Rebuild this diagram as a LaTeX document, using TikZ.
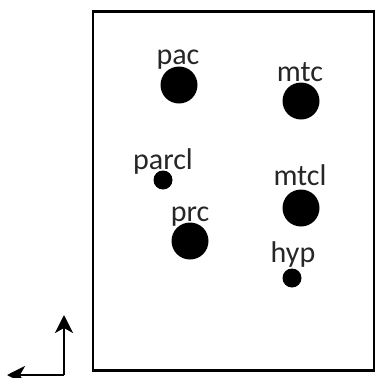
\documentclass[tikz,border=0pt]{standalone}
\usepackage{fontspec}
\setmainfont{Carlito}
\usetikzlibrary{arrows.meta}
\begin{document}
\begin{tikzpicture}[x=1pt,y=-1pt,
  big/.style={circle,fill=black,inner sep=0pt,minimum size=37pt},
  small/.style={circle,fill=black,inner sep=0pt,minimum size=19pt},
  lab/.style={inner sep=0pt,text=black!85,font=\fontsize{30}{32}\selectfont},
  axis/.style={line width=2.4pt,-{Stealth[length=18pt,width=18pt,inset=5pt]}}]
\useasboundingbox (0,0) rectangle (377,378);
\node[draw,line width=2.4pt,minimum width=281pt,minimum height=359pt,inner sep=0pt] (frame) at (233.5,191) {};
\node[big] (pac) at (179,85) {};
\node[big] (mtc) at (301,101) {};
\node[small] (parcl) at (163,180) {};
\node[big] (mtcl) at (301,208) {};
\node[big] (prc) at (190,241) {};
\node[small] (hyp) at (292,278) {};
\node[lab,anchor=base] (lpac) at (178,64) {pac};
\node[lab,anchor=base] (lmtc) at (300,81) {mtc};
\node[lab,anchor=base] (lparcl) at (163,169) {parcl};
\node[lab,anchor=base] (lmtcl) at (300,185) {mtcl};
\node[lab,anchor=base] (lprc) at (190,221) {prc};
\node[lab,anchor=base] (lhyp) at (293,262) {hyp};
\coordinate (o) at (64,375);
\coordinate (up) at (64,315);
\coordinate (left) at (7,375);
\draw[axis] (o) -- (up);
\draw[axis] (o) -- (left);
\end{tikzpicture}
\end{document}
